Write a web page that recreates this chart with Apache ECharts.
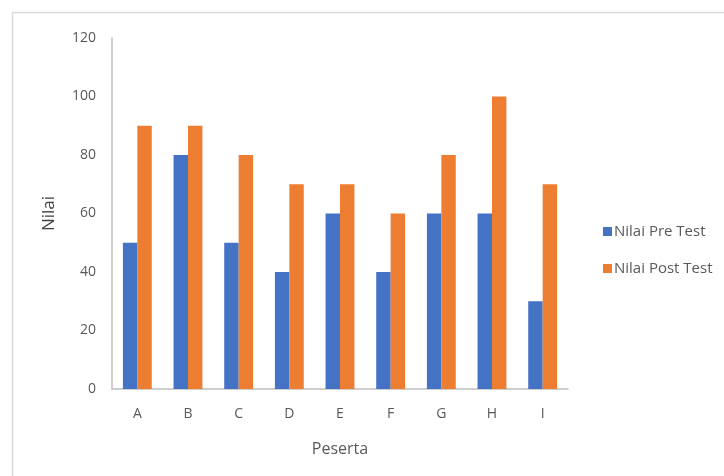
<!DOCTYPE html>
<html>
<head>
<meta charset="utf-8">
<script src="https://cdn.jsdelivr.net/npm/echarts@6/dist/echarts.min.js"></script>
<style>
html,body{margin:0;padding:0;background:#fff;}
#c{width:724px;height:476px;}
</style>
</head>
<body>
<div id="c"></div>
<script>
const categories = ['A','B','C','D','E','F','G','H','I'];
const preTest = [50,80,50,40,60,40,60,60,30];
const postTest = [90,90,80,70,70,60,80,100,70];
const yTicks = {min:0, max:120, interval:20};

const chart = echarts.init(document.getElementById('c'));
const font = '"Open Sans", sans-serif';
chart.setOption({
  animation:false,
  textStyle:{fontFamily:font},
  graphic:[{type:'rect',shape:{x:12.5,y:12.5,width:760,height:520},style:{fill:'none',stroke:'#d9d9d9',lineWidth:1.5},silent:true}],
  grid:{left:112,top:38,right:156,bottom:87,containLabel:false},
  legend:{
    orient:'vertical', left:598, top:219, itemWidth:9, itemHeight:9, itemGap:22,
    icon:'rect',
    textStyle:{color:'#595959',fontSize:15,fontFamily:font,padding:[0,0,0,-3]},
    data:['Nilai Pre Test','Nilai Post Test']
  },
  xAxis:{
    type:'category', data:categories,
    name:'Peserta', nameLocation:'middle', nameGap:52,
    nameTextStyle:{color:'#595959',fontSize:16,fontFamily:font},
    axisLine:{lineStyle:{color:'#bfbfbf',width:1.5}},
    axisTick:{show:false},
    axisLabel:{color:'#595959',fontSize:14,margin:18,fontFamily:font}
  },
  yAxis:{
    type:'value', min:yTicks.min, max:yTicks.max, interval:yTicks.interval,
    name:'Nilai', nameLocation:'middle', nameGap:54, nameRotate:90,
    nameTextStyle:{color:'#404040',fontSize:17,fontFamily:font},
    axisLine:{show:true,lineStyle:{color:'#bfbfbf',width:1.5}},
    axisTick:{show:false},
    splitLine:{show:false},
    axisLabel:{color:'#595959',fontSize:14,margin:16,fontFamily:font}
  },
  series:[
    {name:'Nilai Pre Test',type:'bar',data:preTest,itemStyle:{color:'#4472C4'},barGap:'0%',barCategoryGap:'43%'},
    {name:'Nilai Post Test',type:'bar',data:postTest,itemStyle:{color:'#ED7D31'},barGap:'0%',barCategoryGap:'43%'}
  ]
});
</script>
</body>
</html>
